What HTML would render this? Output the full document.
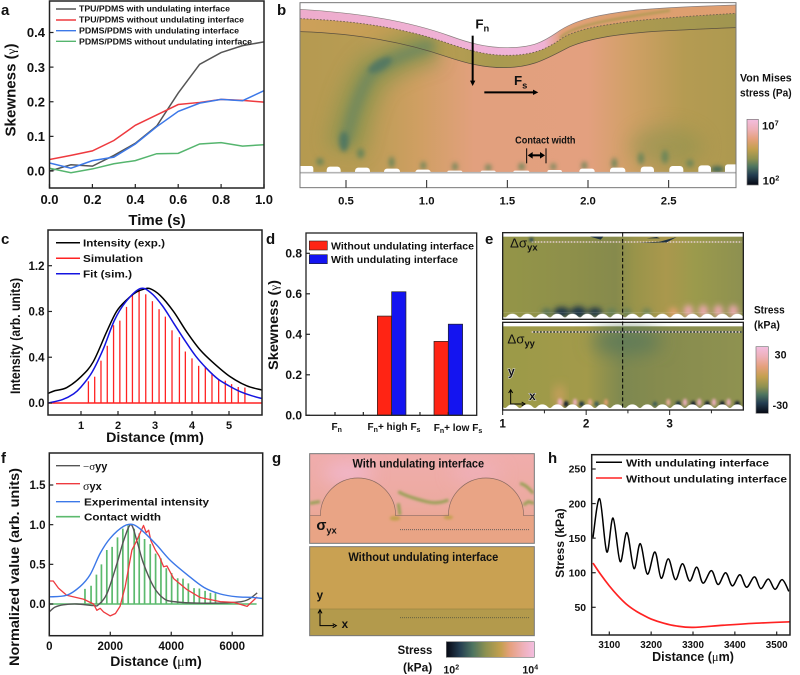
<!DOCTYPE html>
<html lang="en">
<head>
<meta charset="utf-8">
<title>Skewness and stress figure</title>
<style>
html,body{margin:0;padding:0;background:#fff;width:800px;height:675px;overflow:hidden}
svg{display:block;filter:blur(.3px)}
text{font-family:"Liberation Sans",sans-serif;font-weight:bold;fill:#111}
.sym{font-family:"Liberation Serif",serif;font-weight:normal}
</style>
</head>
<body>
<svg id="figure" xmlns="http://www.w3.org/2000/svg" width="800" height="675" viewBox="0 0 800 675">
<defs>
<linearGradient id="cmapV" x1="0" y1="0" x2="0" y2="1"><stop offset="0" stop-color="#f3bde0"/><stop offset=".15" stop-color="#eeb0b8"/><stop offset=".3" stop-color="#e5a07c"/><stop offset=".45" stop-color="#c4a04f"/><stop offset=".6" stop-color="#8e9150"/><stop offset=".72" stop-color="#4d7460"/><stop offset=".85" stop-color="#233c50"/><stop offset="1" stop-color="#060812"/></linearGradient>
<linearGradient id="cmapH" x1="0" y1="0" x2="1" y2="0"><stop offset="0" stop-color="#060812"/><stop offset=".15" stop-color="#233c50"/><stop offset=".3" stop-color="#4d7460"/><stop offset=".45" stop-color="#8e9150"/><stop offset=".62" stop-color="#c4a04f"/><stop offset=".72" stop-color="#e5a07c"/><stop offset=".87" stop-color="#eeb0b8"/><stop offset="1" stop-color="#f3bde0"/></linearGradient>
<linearGradient id="bBody" x1="0" y1="0" x2="1" y2="0"><stop offset="0" stop-color="#b59a50"/><stop offset=".14" stop-color="#b89c54"/><stop offset=".27" stop-color="#cf9f62"/><stop offset=".4" stop-color="#e2a07e"/><stop offset=".66" stop-color="#e3a07f"/><stop offset=".76" stop-color="#d0a066"/><stop offset=".88" stop-color="#b59b52"/><stop offset="1" stop-color="#ad9950"/></linearGradient>
<linearGradient id="bBand" x1="0" y1="0" x2="1" y2="0"><stop offset="0" stop-color="#cda05a"/><stop offset=".25" stop-color="#c29e54"/><stop offset=".45" stop-color="#a89a50"/><stop offset=".6" stop-color="#b49c50"/><stop offset="1" stop-color="#a09650"/></linearGradient>
<linearGradient id="bPink" x1="0" y1="0" x2="1" y2="0"><stop offset="0" stop-color="#eeaccc"/><stop offset=".5" stop-color="#f0b4da"/><stop offset=".56" stop-color="#efb2d4"/><stop offset=".6" stop-color="#e2a078"/><stop offset=".78" stop-color="#dc9f6e"/><stop offset="1" stop-color="#e09f72"/></linearGradient>
<linearGradient id="eTop" x1="0" y1="0" x2="1" y2="0"><stop offset="0" stop-color="#949548"/><stop offset=".3" stop-color="#8d8f4a"/><stop offset=".47" stop-color="#868a4c"/><stop offset=".55" stop-color="#99944a"/><stop offset=".68" stop-color="#aa984d"/><stop offset=".8" stop-color="#9b9a4c"/><stop offset="1" stop-color="#8d9050"/></linearGradient>
<linearGradient id="eBot" x1="0" y1="0" x2="1" y2="0"><stop offset="0" stop-color="#9b9a48"/><stop offset=".35" stop-color="#a39a4a"/><stop offset=".5" stop-color="#7d8850"/><stop offset=".65" stop-color="#868b4e"/><stop offset="1" stop-color="#8f9250"/></linearGradient>
<linearGradient id="gTop" x1="0" y1="0" x2="0" y2="1"><stop offset="0" stop-color="#f0adac"/><stop offset=".55" stop-color="#ecaaa0"/><stop offset="1" stop-color="#e9a484"/></linearGradient>
<filter id="b2" x="-50%" y="-50%" width="200%" height="200%"><feGaussianBlur stdDeviation="4"/></filter>
<filter id="b3" x="-100%" y="-100%" width="300%" height="300%"><feGaussianBlur stdDeviation="7"/></filter>
<filter id="b4" x="-50%" y="-50%" width="200%" height="200%"><feGaussianBlur stdDeviation="9"/></filter>
<filter id="b6" x="-50%" y="-50%" width="200%" height="200%"><feGaussianBlur stdDeviation="15"/></filter>
<filter id="b8" x="-60%" y="-60%" width="220%" height="220%"><feGaussianBlur stdDeviation="28"/></filter>
<pattern id="scallop" x="75" y="262" width="45" height="21" patternUnits="userSpaceOnUse"><path d="M0 21V15C6 15 8 4 22 4C36 4 38 15 45 15V21Z" fill="#fff"/></pattern>
<pattern id="scallop2" x="75" y="534" width="45" height="21" patternUnits="userSpaceOnUse"><path d="M0 21V15C6 15 8 4 22 4C36 4 38 15 45 15V21Z" fill="#fff"/></pattern>
<clipPath id="bClip"><rect x="90" y="8" width="1308" height="510"/></clipPath>
<clipPath id="bBodyClip"><path d="M90 28C250 38 400 58 540 108C600 130 650 143 710 143C790 143 820 125 860 98C920 55 1000 42 1100 30C1200 22 1300 18 1398 15L1398 518L90 518Z"/></clipPath>
<clipPath id="eTopClip"><rect x="68" y="23" width="722" height="260"/></clipPath>
<clipPath id="eBotClip"><rect x="68" y="292" width="722" height="263"/></clipPath>
<clipPath id="gClip"><rect x="89" y="11" width="674" height="269"/></clipPath>
<clipPath id="clipA"><rect x="49.5" y="1" width="214.5" height="187"/></clipPath>
<clipPath id="clipC"><rect x="48" y="230" width="214" height="185"/></clipPath>
<clipPath id="clipF"><rect x="49.3" y="453" width="213.4" height="182.7"/></clipPath>
<clipPath id="clipH"><rect x="591.7" y="454.7" width="198.3" height="180.3"/></clipPath>
</defs>

<rect width="800" height="675" fill="#fff"/>

<text x="1" y="15" font-size="15">a</text>
<text x="277" y="15" font-size="15">b</text>
<text x="1" y="244" font-size="15">c</text>
<text x="266" y="244" font-size="15">d</text>
<text x="485" y="244" font-size="15">e</text>
<text x="1" y="463" font-size="15">f</text>
<text x="272" y="463" font-size="15">g</text>
<text x="548" y="463" font-size="15">h</text>

<!-- Panel a -->
<g id="panel-a">
<g id="a-series" clip-path="url(#clipA)"></g>
<rect x="49.5" y="1" width="214.5" height="187" fill="none" stroke="#222" stroke-width="1.5"/>
<g id="a-ticks"></g>
<text x="157" y="225" text-anchor="middle" font-size="15">Time (s)</text>
<text transform="translate(15.5,90) rotate(-90)" text-anchor="middle" font-size="15" textLength="93" lengthAdjust="spacingAndGlyphs">Skewness (<tspan class="sym" font-size="13">γ</tspan>)</text>
<g font-size="8">
<line x1="56" x2="76" y1="9" y2="9" stroke="#555" stroke-width="1.4"/>
<text x="79" y="11.5" textLength="151" lengthAdjust="spacingAndGlyphs">TPU/PDMS with undulating interface</text>
<line x1="56" x2="76" y1="20" y2="20" stroke="#ee3a3f" stroke-width="1.4"/>
<text x="79" y="22.5" textLength="165" lengthAdjust="spacingAndGlyphs">TPU/PDMS without undulating interface</text>
<line x1="56" x2="76" y1="30.7" y2="30.7" stroke="#3c78e8" stroke-width="1.4"/>
<text x="79" y="33.5" textLength="160" lengthAdjust="spacingAndGlyphs">PDMS/PDMS with undulating interface</text>
<line x1="56" x2="76" y1="41.3" y2="41.3" stroke="#55b56e" stroke-width="1.4"/>
<text x="79" y="44.5" textLength="173" lengthAdjust="spacingAndGlyphs">PDMS/PDMS without undulating interface</text>
</g>
</g>

<!-- Panel b -->
<g id="panel-b" transform="translate(270,0) scale(.33333)">
<g clip-path="url(#bClip)">
<path d="M90 28C250 38 400 58 540 108C600 130 650 143 710 143C790 143 820 125 860 98C920 55 1000 42 1100 30C1200 22 1300 18 1398 15L1398 518L90 518Z" fill="url(#bBody)"/>
<path d="M90 56C250 62 400 82 540 132C600 152 650 166 710 166C790 166 830 148 880 112C930 85 1000 75 1100 62C1200 52 1300 46 1398 40L1398 83C1320 86 1220 90 1130 96C1030 105 960 115 900 140C830 175 790 203 700 203C640 203 590 190 530 170C400 125 250 100 90 95Z" fill="url(#bBand)"/>
<g clip-path="url(#bBodyClip)">
<path d="M225 450C240 370 260 290 300 225C340 185 420 150 500 135" fill="none" stroke="#8f9550" stroke-width="110" opacity=".85" filter="url(#b8)"/>
<path d="M225 430C240 370 260 290 300 225C340 190 400 160 490 135" fill="none" stroke="#6a8660" stroke-width="34" opacity=".85" filter="url(#b6)"/>
<ellipse cx="222" cy="425" rx="14" ry="30" fill="#4d7662" opacity=".9" filter="url(#b3)"/>
<ellipse cx="330" cy="195" rx="40" ry="16" fill="#4f7664" opacity=".85" transform="rotate(-30 330 195)" filter="url(#b3)"/>
<ellipse cx="1190" cy="440" rx="110" ry="60" fill="#8d9350" opacity=".55" filter="url(#b8)"/>
<g fill="#6a8558" filter="url(#b3)">
<ellipse cx="150" cy="485" rx="11" ry="11"/><ellipse cx="272" cy="460" rx="11" ry="15"/><ellipse cx="365" cy="487" rx="8" ry="17"/><ellipse cx="460" cy="497" rx="8" ry="12"/><ellipse cx="555" cy="500" rx="8" ry="12"/><ellipse cx="655" cy="503" rx="9" ry="10"/><ellipse cx="755" cy="500" rx="9" ry="11"/><ellipse cx="850" cy="500" rx="8" ry="10"/><ellipse cx="943" cy="497" rx="8" ry="12"/><ellipse cx="1033" cy="490" rx="8" ry="16"/><ellipse cx="1113" cy="475" rx="9" ry="18"/><ellipse cx="1185" cy="470" rx="10" ry="20"/><ellipse cx="1260" cy="490" rx="11" ry="11"/><ellipse cx="1342" cy="508" rx="20" ry="9" fill="#3a6558"/>
</g>
</g>
<path d="M90 28C250 38 400 58 540 108C600 130 650 143 710 143C790 143 820 125 860 98C920 55 1000 42 1100 30C1200 22 1300 18 1398 15L1398 40C1300 46 1200 52 1100 62C1000 75 930 85 880 112C830 148 790 166 710 166C650 166 600 152 540 132C400 82 250 62 90 56Z" fill="url(#bPink)"/>
<path d="M870 115C900 80 1000 60 1200 32" fill="none" stroke="#a89a50" stroke-width="6" filter="url(#b2)"/>
<path d="M90 28C250 38 400 58 540 108C600 130 650 143 710 143C790 143 820 125 860 98C920 55 1000 42 1100 30C1200 22 1300 18 1398 15" fill="none" stroke="#8a8080" stroke-width="2"/>
<path d="M90 56C250 62 400 82 540 132C600 152 650 166 710 166C790 166 830 148 880 112C930 85 1000 75 1100 62C1200 52 1300 46 1398 40" fill="none" stroke="#6e5f4e" stroke-width="2.6" stroke-dasharray="5 5"/>
<path d="M90 95C250 100 400 125 530 170C590 190 640 203 700 203C790 203 830 175 900 140C960 115 1030 105 1130 96C1220 90 1320 86 1398 83" fill="none" stroke="#5a5040" stroke-width="2.2"/>
<g fill="#fff">
<rect x="85" y="498" width="45" height="30" rx="7"/><rect x="170" y="500" width="42" height="30" rx="10"/><rect x="255" y="503" width="45" height="30" rx="10"/><rect x="342" y="506" width="48" height="30" rx="9"/><rect x="436" y="509" width="46" height="30" rx="8"/><rect x="532" y="512" width="45" height="30" rx="5"/><rect x="632" y="512" width="45" height="30" rx="5"/><rect x="730" y="512" width="48" height="30" rx="5"/><rect x="832" y="510" width="44" height="30" rx="6"/><rect x="928" y="506" width="46" height="30" rx="8"/><rect x="1020" y="503" width="46" height="30" rx="9"/><rect x="1112" y="500" width="40" height="30" rx="10"/><rect x="1198" y="498" width="42" height="30" rx="10"/><rect x="1285" y="496" width="38" height="30" rx="10"/><rect x="1365" y="493" width="40" height="30" rx="8"/>
</g>
</g>
<line x1="90" x2="1398" y1="518" y2="518" stroke="#b4b4b4" stroke-width="5"/>
<rect x="90" y="8" width="1308" height="555" fill="none" stroke="#777" stroke-width="3"/>
<g id="b-ticks"></g>
<text x="616" y="85" font-size="40">F<tspan font-size="28" dy="10">n</tspan></text>
<line x1="608" x2="608" y1="107" y2="245" stroke="#000" stroke-width="6"/>
<path d="M600 242H616L608 258Z" fill="#000"/>
<text x="732" y="255" font-size="40">F<tspan font-size="28" dy="10">s</tspan></text>
<line x1="643" x2="792" y1="277" y2="277" stroke="#000" stroke-width="6"/>
<path d="M789 269V285L805 277Z" fill="#000"/>
<text x="826" y="430" text-anchor="middle" font-size="31" textLength="181" lengthAdjust="spacingAndGlyphs">Contact width</text>
<g stroke="#000">
<line x1="770" x2="770" y1="445" y2="490" stroke-width="3"/><line x1="828" x2="828" y1="445" y2="490" stroke-width="3"/><line x1="780" x2="818" y1="466" y2="466" stroke-width="6"/>
<path d="M773 466L788 456V476Z M825 466L810 456V476Z" fill="#000" stroke="none"/>
</g>
<text x="1410" y="245" font-size="34" textLength="155" lengthAdjust="spacingAndGlyphs">Von Mises</text>
<text x="1410" y="290" font-size="34" textLength="155" lengthAdjust="spacingAndGlyphs">stress (Pa)</text>
<rect x="1431" y="358" width="34" height="197" fill="url(#cmapV)" stroke="#777" stroke-width="2"/>
<text x="1476" y="388" font-size="34">10<tspan font-size="22" dy="-12">7</tspan></text>
<text x="1478" y="553" font-size="34">10<tspan font-size="22" dy="-12">2</tspan></text>
</g>

<!-- Panel c -->
<g id="panel-c">
<g id="c-series" clip-path="url(#clipC)"></g>
<rect x="48" y="230" width="214" height="185" fill="none" stroke="#222" stroke-width="1.5"/>
<g id="c-ticks"></g>
<text x="155" y="442" text-anchor="middle" font-size="14.2">Distance (mm)</text>
<text transform="translate(20,336) rotate(-90)" text-anchor="middle" font-size="13.6" textLength="116" lengthAdjust="spacingAndGlyphs">Intensity (arb. units)</text>
<g font-size="10">
<line x1="56" x2="80" y1="242.7" y2="242.7" stroke="#000" stroke-width="1.5"/>
<text x="83" y="246.5" textLength="82" lengthAdjust="spacingAndGlyphs">Intensity (exp.)</text>
<line x1="56" x2="80" y1="258.3" y2="258.3" stroke="#f22" stroke-width="1.5"/>
<text x="83" y="262" textLength="60" lengthAdjust="spacingAndGlyphs">Simulation</text>
<line x1="56" x2="80" y1="273.7" y2="273.7" stroke="#1414e0" stroke-width="1.5"/>
<text x="83" y="277.5" textLength="49" lengthAdjust="spacingAndGlyphs">Fit (sim.)</text>
</g>
</g>

<!-- Panel d -->
<g id="panel-d">
<g id="d-bars"></g>
<rect x="306" y="233" width="170.7" height="182.3" fill="none" stroke="#222" stroke-width="1.3"/>
<g id="d-ticks"></g>
<text transform="translate(278,325) rotate(-90)" text-anchor="middle" font-size="13.5" textLength="90" lengthAdjust="spacingAndGlyphs">Skewness (<tspan class="sym" font-size="12">γ</tspan>)</text>
<g font-size="10.5">
<rect x="309.3" y="241" width="18" height="9" fill="#ff2414" stroke="#222" stroke-width=".6"/>
<text x="331" y="249.5" textLength="143" lengthAdjust="spacingAndGlyphs">Without undulating interface</text>
<rect x="309.3" y="254.7" width="18" height="9" fill="#1414f0" stroke="#222" stroke-width=".6"/>
<text x="331" y="263" textLength="127" lengthAdjust="spacingAndGlyphs">With undulating interface</text>
</g>
<g id="d-cats" font-size="10"></g>
</g>

<!-- Panel e -->
<g id="panel-e" transform="translate(480,225) scale(.33333)">
<g clip-path="url(#eTopClip)">
<rect x="68" y="23" width="722" height="260" fill="url(#eTop)"/>
<rect x="68" y="23" width="722" height="12" fill="#fff"/>
<g filter="url(#b4)" fill="#1f3646">
<ellipse cx="245" cy="262" rx="24" ry="16"/><ellipse cx="295" cy="262" rx="24" ry="18"/><ellipse cx="345" cy="262" rx="22" ry="14"/><ellipse cx="200" cy="262" rx="14" ry="10" fill="#44685c"/><ellipse cx="395" cy="262" rx="14" ry="10" fill="#5a7c5c"/><ellipse cx="440" cy="262" rx="12" ry="10" fill="#5a7c5c"/><ellipse cx="500" cy="262" rx="12" ry="10" fill="#5a7c5c"/>
</g>
<g filter="url(#b4)" fill="#eda8b0">
<ellipse cx="580" cy="262" rx="14" ry="14" fill="#e3a070"/><ellipse cx="625" cy="258" rx="14" ry="18"/><ellipse cx="670" cy="258" rx="14" ry="18"/><ellipse cx="715" cy="258" rx="14" ry="18"/><ellipse cx="760" cy="258" rx="14" ry="18"/>
</g>
<rect x="68" y="262" width="722" height="21" fill="url(#scallop)"/>
<line x1="155" x2="786" y1="51" y2="51" stroke="#f4d8e6" stroke-width="4" stroke-dasharray="5 4"/>
<path d="M330 35H370L362 44ZM500 40H540L530 36ZM470 54L540 50L590 36L560 52Z" fill="#1d3040"/>
<rect x="148" y="38" width="12" height="12" fill="#2d4a55" filter="url(#b2)"/>
</g>
<rect x="68" y="23" width="722" height="260" fill="none" stroke="#222" stroke-width="4"/>
<g clip-path="url(#eBotClip)">
<rect x="68" y="292" width="722" height="263" fill="url(#eBot)"/>
<rect x="68" y="292" width="722" height="12" fill="#fff"/>
<ellipse cx="440" cy="350" rx="105" ry="35" fill="#5f7a58" filter="url(#b8)"/>
<ellipse cx="238" cy="510" rx="14" ry="30" fill="#d0a060" filter="url(#b6)"/>
<g filter="url(#b2)">
<ellipse cx="240" cy="532" rx="7" ry="12" fill="#efb0c0"/><ellipse cx="258" cy="537" rx="8" ry="9" fill="#12202e"/><ellipse cx="285" cy="532" rx="6" ry="11" fill="#efb0c0"/><ellipse cx="305" cy="537" rx="8" ry="8" fill="#1e3442"/><ellipse cx="330" cy="532" rx="6" ry="10" fill="#e8a890"/><ellipse cx="350" cy="537" rx="7" ry="8" fill="#3a5a55"/><ellipse cx="378" cy="532" rx="6" ry="10" fill="#e0a070"/><ellipse cx="525" cy="537" rx="7" ry="7" fill="#3a5a55"/><ellipse cx="565" cy="532" rx="6" ry="10" fill="#efb0a0"/><ellipse cx="595" cy="537" rx="8" ry="9" fill="#1e3442"/><ellipse cx="615" cy="532" rx="6" ry="11" fill="#efb0c0"/><ellipse cx="640" cy="537" rx="8" ry="9" fill="#12202e"/><ellipse cx="658" cy="532" rx="6" ry="11" fill="#efb0c0"/><ellipse cx="682" cy="537" rx="8" ry="9" fill="#12202e"/><ellipse cx="702" cy="532" rx="6" ry="11" fill="#efb0c0"/><ellipse cx="727" cy="537" rx="8" ry="9" fill="#12202e"/><ellipse cx="746" cy="532" rx="6" ry="11" fill="#efb0c0"/><ellipse cx="772" cy="537" rx="8" ry="9" fill="#12202e"/>
</g>
<rect x="68" y="534" width="722" height="21" fill="url(#scallop2)"/>
<line x1="155" x2="786" y1="321" y2="321" stroke="#f4d8e6" stroke-width="4" stroke-dasharray="5 5"/>
<line x1="160" x2="786" y1="321" y2="321" stroke="#1d3040" stroke-width="4" stroke-dasharray="5 5"/>
</g>
<rect x="68" y="292" width="722" height="263" fill="none" stroke="#222" stroke-width="4"/>
<line x1="428" x2="428" y1="23" y2="555" stroke="#000" stroke-width="3" stroke-dasharray="12 7"/>
<text x="90" y="68" font-size="40" style="font-weight:normal">Δσ<tspan font-size="28" dy="9" style="font-weight:bold">yx</tspan></text>
<text x="82" y="355" font-size="40" style="font-weight:normal">Δσ<tspan font-size="28" dy="9" style="font-weight:bold">yy</tspan></text>
<text x="84" y="452" font-size="36" stroke="#ddd" stroke-width="3" paint-order="stroke">y</text>
<text x="147" y="525" font-size="36" stroke="#ddd" stroke-width="3" paint-order="stroke">x</text>
<path d="M92 496V537H130M86 504L92 494L98 504M125 531L135 537L125 543" fill="none" stroke="#000" stroke-width="3"/>
<g id="e-ticks" font-size="35"></g>
<text x="822" y="265" font-size="33" textLength="92" lengthAdjust="spacingAndGlyphs">Stress</text>
<text x="822" y="311" font-size="33" textLength="78" lengthAdjust="spacingAndGlyphs">(kPa)</text>
<rect x="828" y="365" width="37" height="200" fill="url(#cmapV)" stroke="#777" stroke-width="2"/>
<text x="884" y="400" font-size="32">30</text>
<text x="878" y="552" font-size="32">-30</text>
</g>

<!-- Panel f -->
<g id="panel-f">
<g id="f-series" clip-path="url(#clipF)"></g>
<rect x="49.3" y="453" width="213.4" height="182.7" fill="none" stroke="#222" stroke-width="1.5"/>
<g id="f-ticks"></g>
<text x="156" y="666" text-anchor="middle" font-size="14">Distance (<tspan class="sym">μ</tspan>m)</text>
<text transform="translate(19,567) rotate(-90)" text-anchor="middle" font-size="14" textLength="198" lengthAdjust="spacingAndGlyphs">Normalized value (arb. units)</text>
<g font-size="10">
<line x1="56" x2="80" y1="465.7" y2="465.7" stroke="#555" stroke-width="1.4"/>
<text x="83" y="470"><tspan class="sym" font-size="11">−σ</tspan><tspan font-size="11">yy</tspan></text>
<line x1="56" x2="80" y1="483.7" y2="483.7" stroke="#ee3a3f" stroke-width="1.4"/>
<text x="83" y="490"><tspan class="sym" font-size="12">σ</tspan><tspan font-size="11">yx</tspan></text>
<line x1="56" x2="80" y1="501.7" y2="501.7" stroke="#3c78e8" stroke-width="1.4"/>
<text x="84" y="505.5" textLength="125" lengthAdjust="spacingAndGlyphs">Experimental intensity</text>
<line x1="56" x2="80" y1="516.7" y2="516.7" stroke="#5cba6e" stroke-width="1.6"/>
<text x="84" y="520.5" textLength="77" lengthAdjust="spacingAndGlyphs">Contact width</text>
</g>
</g>

<!-- Panel g -->
<g id="panel-g" transform="translate(280,450) scale(.33333)">
<g clip-path="url(#gClip)">
<rect x="89" y="11" width="674" height="269" fill="url(#gTop)"/>
<ellipse cx="205" cy="70" rx="75" ry="30" fill="#f3bde0" opacity=".7" filter="url(#b8)"/>
<ellipse cx="590" cy="70" rx="75" ry="26" fill="#f0b4cc" opacity=".6" filter="url(#b8)"/>
<path d="M355 125C380 140 420 150 440 155C460 160 480 160 505 150M355 160L360 195M720 100C740 105 750 120 760 130M730 165L745 155L763 160M89 160L120 155" fill="none" stroke="#96a055" stroke-width="9" filter="url(#b2)"/>
<path d="M89 197H121A113 113 0 0 1 347 197H505A113 113 0 0 1 731 197H763V280H89Z" fill="#e9a485"/>
<ellipse cx="345" cy="205" rx="16" ry="7" fill="#c2a04f" filter="url(#b2)"/>
<ellipse cx="505" cy="202" rx="14" ry="6" fill="#c2a04f" filter="url(#b2)"/>
<path d="M89 197H121A113 113 0 0 1 347 197H505A113 113 0 0 1 731 197H763" fill="none" stroke="#8a6a60" stroke-width="2"/>
<line x1="360" x2="747" y1="239" y2="239" stroke="#555" stroke-width="2.5" stroke-dasharray="3 3"/>
</g>
<rect x="89" y="11" width="674" height="269" fill="none" stroke="#777" stroke-width="3"/>
<text x="415" y="52" text-anchor="middle" font-size="35" textLength="395" lengthAdjust="spacingAndGlyphs">With undulating interface</text>
<text x="109" y="240" font-size="44">σ<tspan font-size="28" dy="10">yx</tspan></text>
<rect x="89" y="290" width="674" height="187" fill="#c9a152"/>
<rect x="89" y="477" width="674" height="80" fill="#b39a4c"/>
<line x1="89" x2="763" y1="477" y2="477" stroke="#9a8745" stroke-width="2.5"/>
<line x1="360" x2="747" y1="503" y2="503" stroke="#5a5a40" stroke-width="2.5" stroke-dasharray="3 3"/>
<rect x="89" y="290" width="674" height="267" fill="none" stroke="#777" stroke-width="3"/>
<text x="430" y="333" text-anchor="middle" font-size="35" textLength="450" lengthAdjust="spacingAndGlyphs">Without undulating interface</text>
<text x="110" y="447" font-size="35">y</text>
<text x="185" y="534" font-size="35">x</text>
<path d="M120 482V527H162M114 490L120 479L126 490M158 521L169 527L158 533" fill="none" stroke="#000" stroke-width="3"/>
<text x="353" y="612" font-size="35" textLength="104" lengthAdjust="spacingAndGlyphs">Stress</text>
<text x="369" y="665" font-size="35" textLength="88" lengthAdjust="spacingAndGlyphs">(kPa)</text>
<rect x="499" y="575" width="264" height="47" fill="url(#cmapH)" stroke="#777" stroke-width="2"/>
<text x="490" y="670" font-size="32">10<tspan font-size="21" dy="-11">2</tspan></text>
<text x="727" y="670" font-size="32">10<tspan font-size="21" dy="-11">4</tspan></text>
</g>

<!-- Panel h -->
<g id="panel-h">
<g id="h-series" clip-path="url(#clipH)"></g>
<rect x="591.7" y="454.7" width="198.3" height="180.3" fill="none" stroke="#222" stroke-width="1.5"/>
<g id="h-ticks"></g>
<text x="693" y="661" text-anchor="middle" font-size="12.5">Distance (<tspan class="sym">μ</tspan>m)</text>
<text transform="translate(564,543) rotate(-90)" text-anchor="middle" font-size="12">Stress (kPa)</text>
<g font-size="10.5">
<line x1="596" x2="622" y1="462.3" y2="462.3" stroke="#000" stroke-width="1.5"/>
<text x="626" y="466.5" textLength="143" lengthAdjust="spacingAndGlyphs">With undulating interface</text>
<line x1="596" x2="622" y1="478" y2="478" stroke="#f22" stroke-width="1.5"/>
<text x="626" y="482.5" textLength="161" lengthAdjust="spacingAndGlyphs">Without undulating interface</text>
</g>
</g>
</svg>

<script>
/* ---------- panel a ---------- */
const aTimes = [0, 0.1, 0.2, 0.3, 0.4, 0.5, 0.6, 0.7, 0.8, 0.9, 1.0];
const aTpuWith = [0.0, 0.018, 0.014, 0.045, 0.08, 0.13, 0.225, 0.308, 0.342, 0.362, 0.373];
const aTpuWithout = [0.033, 0.045, 0.058, 0.088, 0.132, 0.162, 0.192, 0.198, 0.207, 0.204, 0.199];
const aPdmsWith = [0.023, 0.008, 0.03, 0.04, 0.078, 0.128, 0.172, 0.196, 0.207, 0.203, 0.232];
const aPdmsWithout = [0.008, -0.005, 0.006, 0.021, 0.03, 0.05, 0.051, 0.078, 0.082, 0.072, 0.076];
const aXTicks = [0, 0.2, 0.4, 0.6, 0.8, 1.0];
const aYTicks = [0, 0.1, 0.2, 0.3, 0.4];

/* ---------- panel b ---------- */
const bXTicks = [0.5, 1.0, 1.5, 2.0, 2.5];

/* ---------- panel c ---------- */
const cExpX = [0.12, 0.3, 0.61, 1.0, 1.33, 1.69, 1.96, 2.23, 2.5, 2.7, 2.86, 3.14, 3.5, 3.86, 4.22, 4.58, 5.03, 5.48, 5.88];
const cExpY = [0.085, 0.108, 0.134, 0.23, 0.36, 0.62, 0.8, 0.9, 0.97, 0.995, 1.0, 0.94, 0.8, 0.62, 0.464, 0.35, 0.23, 0.15, 0.114];
const cFitX = [0.12, 0.5, 0.8, 1.0, 1.3, 1.6, 1.9, 2.2, 2.6, 2.9, 3.2, 3.5, 3.8, 4.1, 4.4, 4.7, 5.0, 5.3, 5.6, 5.88];
const cFitY = [0.0, 0.03, 0.08, 0.14, 0.27, 0.47, 0.72, 0.88, 1.0, 0.96, 0.85, 0.7, 0.55, 0.41, 0.3, 0.21, 0.15, 0.1, 0.065, 0.04];
const cSimX = [1.2, 1.37, 1.54, 1.71, 1.88, 2.05, 2.23, 2.39, 2.57, 2.75, 2.93, 3.11, 3.28, 3.46, 3.66, 3.82, 4.0, 4.18, 4.36, 4.54, 4.72, 4.9, 5.07, 5.25, 5.43];
const cSimY = [0.19, 0.23, 0.37, 0.5, 0.68, 0.72, 0.84, 0.95, 0.99, 0.95, 0.89, 0.82, 0.755, 0.635, 0.575, 0.45, 0.39, 0.325, 0.31, 0.26, 0.2, 0.195, 0.165, 0.14, 0.135];
const cXTicks = [1, 2, 3, 4, 5];
const cYTicks = [0, 0.4, 0.8, 1.2];

/* ---------- panel d ---------- */
const dWithout = [0, 0.49, 0.365];
const dWith = [0, 0.61, 0.45];
const dYTicks = [0, 0.2, 0.4, 0.6, 0.8];

/* ---------- panel e ---------- */
const eXTicks = [1, 2, 3];

/* ---------- panel f ---------- */
const fSyyX = [0, 186, 460, 900, 1450, 1610, 1890, 2220, 2440, 2675, 2870, 3090, 3420, 3750, 4080, 4960, 6050, 6490, 6820];
const fSyyY = [-0.1, -0.04, -0.01, 0.0, -0.02, -0.01, 0.13, 0.51, 0.8, 1.0, 0.8, 0.51, 0.22, 0.07, 0.03, 0.01, 0.02, 0.05, 0.14];
const fSyxX = [0, 130, 300, 570, 1130, 1450, 1560, 1670, 1780, 2000, 2170, 2320, 2490, 2710, 2870, 3090, 3180, 3260, 3330, 3480, 3610, 3750, 3860, 4080, 4520, 4960, 5610, 6050, 6490, 6820];
const fSyxY = [0.29, 0.29, 0.2, 0.11, 0.06, 0.0, -0.08, -0.055, -0.1, -0.15, -0.12, -0.03, 0.22, 0.68, 0.8, 0.99, 0.9, 0.93, 0.8, 0.68, 0.6, 0.47, 0.48, 0.32, 0.18, 0.08, 0.03, 0.02, -0.03, 0.09];
const fExpX = [0, 570, 1010, 1340, 1670, 2000, 2440, 2760, 3090, 3530, 3970, 4520, 5070, 5610, 6160, 6600, 7000];
const fExpY = [0.09, 0.11, 0.22, 0.37, 0.64, 0.83, 0.98, 1.0, 0.91, 0.74, 0.55, 0.37, 0.21, 0.126, 0.09, 0.084, 0.07];
const fContactX = [1170, 1370, 1546, 1710, 1886, 2061, 2237, 2412, 2588, 2785, 2950, 3125, 3311, 3487, 3662, 3838, 4013, 4211, 4386, 4561, 4748, 4923, 5110, 5285, 5450];
const fContactY = [0.19, 0.23, 0.37, 0.5, 0.68, 0.72, 0.84, 0.95, 0.99, 0.95, 0.89, 0.82, 0.755, 0.635, 0.575, 0.45, 0.39, 0.325, 0.32, 0.26, 0.2, 0.195, 0.165, 0.14, 0.135];
const fXTicks = [0, 2000, 4000, 6000];
const fYTicks = [0, 0.5, 1.0, 1.5];

/* ---------- panel h ---------- */
const hWithX = [3061, 3077, 3094, 3109, 3126, 3142, 3159, 3174, 3191, 3209, 3224, 3241, 3258, 3275, 3292, 3309, 3324, 3344, 3360, 3378, 3394, 3412, 3428, 3447, 3462, 3480, 3496, 3513, 3529];
const hWithY = [151, 207, 130, 179, 116, 158, 106, 142, 98, 130, 92, 120, 90, 113, 88, 108, 85, 103, 83, 100, 81, 97, 79, 94, 77, 91, 76, 90, 73];
const hWithoutX = [3061, 3080, 3100, 3120, 3140, 3160, 3180, 3200, 3230, 3260, 3300, 3372, 3451, 3531];
const hWithoutY = [114, 97, 81, 67, 55, 46, 39, 33, 27, 23, 21, 24, 27, 29];
const hXTicks = [3100, 3200, 3300, 3400, 3500];
const hYTicks = [50, 100, 150, 200, 250];

const NS = 'http://www.w3.org/2000/svg';
const byId = id => document.getElementById(id);
function linear(d0, d1, r0, r1) { return v => r0 + (v - d0) * (r1 - r0) / (d1 - d0); }
function svgEl(tag, attrs, parent, txt) {
  const el = document.createElementNS(NS, tag);
  for (const k in attrs) el.setAttribute(k, attrs[k]);
  if (txt !== undefined) el.textContent = txt;
  parent.appendChild(el);
  return el;
}
function straight(xs, ys, sx, sy) {
  return xs.map((x, i) => (i ? 'L' : 'M') + sx(x).toFixed(2) + ' ' + sy(ys[i]).toFixed(2)).join('');
}
function smooth(xs, ys, sx, sy) {
  const p = xs.map((x, i) => [sx(x), sy(ys[i])]);
  let d = 'M' + p[0][0].toFixed(2) + ' ' + p[0][1].toFixed(2);
  for (let i = 0; i < p.length - 1; i++) {
    const a = p[Math.max(i - 1, 0)], b = p[i], c = p[i + 1], e = p[Math.min(i + 2, p.length - 1)];
    const c1 = [b[0] + (c[0] - a[0]) / 6, b[1] + (c[1] - a[1]) / 6];
    const c2 = [c[0] - (e[0] - b[0]) / 6, c[1] - (e[1] - b[1]) / 6];
    d += 'C' + c1[0].toFixed(2) + ' ' + c1[1].toFixed(2) + ' ' + c2[0].toFixed(2) + ' ' + c2[1].toFixed(2) + ' ' + c[0].toFixed(2) + ' ' + c[1].toFixed(2);
  }
  return d;
}
function xTicks(g, vals, sx, yBase, len, labelY, size, fmt, sw) {
  vals.forEach(v => {
    const t = svgEl('line', {x1: sx(v), x2: sx(v), y1: yBase, y2: yBase - len, stroke: '#222', 'stroke-width': sw || 1.2}, g);
    
    
    const l = svgEl('text', {x: sx(v), y: labelY, 'text-anchor': 'middle', 'font-size': size}, g, fmt(v));
    
    
  });
}
function yTicks(g, vals, sy, xBase, len, labelX, size, fmt) {
  vals.forEach(v => {
    const t = svgEl('line', {x1: xBase, x2: xBase + len, y1: sy(v), y2: sy(v), stroke: '#222', 'stroke-width': 1.2}, g);
    
    
    const l = svgEl('text', {x: labelX, y: sy(v) + size * 0.36, 'text-anchor': 'end', 'font-size': size}, g, fmt(v));
    
    
  });
}
const fix1 = v => v.toFixed(1);
const plain = v => String(v);

/* panel a */
const axX = linear(0, 1, 49.5, 264), axY = linear(0, 0.4, 171, 32.5);
const aG = byId('a-series');
const aLine1 = svgEl('path', {d: straight(aTimes, aTpuWith, axX, axY), fill: 'none', stroke: '#555', 'stroke-width': 1.5}, aG);


const aLine2 = svgEl('path', {d: straight(aTimes, aTpuWithout, axX, axY), fill: 'none', stroke: '#ee3a3f', 'stroke-width': 1.5}, aG);


const aLine3 = svgEl('path', {d: straight(aTimes, aPdmsWith, axX, axY), fill: 'none', stroke: '#3c78e8', 'stroke-width': 1.5}, aG);


const aLine4 = svgEl('path', {d: straight(aTimes, aPdmsWithout, axX, axY), fill: 'none', stroke: '#55b56e', 'stroke-width': 1.5}, aG);


xTicks(byId('a-ticks'), aXTicks, axX, 188, 4, 204, 13, fix1);
yTicks(byId('a-ticks'), aYTicks, axY, 49.5, 4, 45, 13, fix1);

/* panel b ticks (drawn in the panel's scaled coordinates) */
const bxX = linear(0.5, 2.5, 228, 1196);
xTicks(byId('b-ticks'), bXTicks, bxX, 563, 23, 614, 34, fix1, 3);

/* panel c */
const cxX = linear(1, 5, 81, 229), cxY = linear(0, 1.2, 403, 265.7);
const cG = byId('c-series');
const cBase = svgEl('line', {x1: cxX(0.12), x2: cxX(5.88), y1: cxY(0), y2: cxY(0), stroke: '#f22', 'stroke-width': 1.5}, cG);


cSimX.forEach((x, i) => {
  const s = svgEl('line', {x1: cxX(x), x2: cxX(x), y1: cxY(0), y2: cxY(cSimY[i]), stroke: '#f22', 'stroke-width': 1.3}, cG);
  
  
});
const cLine1 = svgEl('path', {d: smooth(cExpX, cExpY, cxX, cxY), fill: 'none', stroke: '#000', 'stroke-width': 1.5}, cG);


const cLine2 = svgEl('path', {d: smooth(cFitX, cFitY, cxX, cxY), fill: 'none', stroke: '#1414e0', 'stroke-width': 1.5}, cG);


xTicks(byId('c-ticks'), cXTicks, cxX, 415, 4, 429, 11, plain);
yTicks(byId('c-ticks'), cYTicks, cxY, 48, 4, 44.5, 11.5, fix1);

/* panel d */
const dxC = linear(0, 2, 335, 448.3), dxY = linear(0, 0.8, 415.3, 253.3);
const dBarW = 14.3;
const dG = byId('d-bars');
dWithout.forEach((v, i) => {
  const b = svgEl('rect', {x: dxC(i) - dBarW, y: dxY(v), width: dBarW, height: dxY(0) - dxY(v), fill: '#ff2414', stroke: '#222', 'stroke-width': 0.7}, dG);
  
  
});
dWith.forEach((v, i) => {
  const b = svgEl('rect', {x: dxC(i), y: dxY(v), width: dBarW, height: dxY(0) - dxY(v), fill: '#1414f0', stroke: '#222', 'stroke-width': 0.7}, dG);
  
  
});
yTicks(byId('d-ticks'), dYTicks, dxY, 306, 4, 302, 12, fix1);
[0, 0.5, 1, 1.5, 2].forEach(v => {
  const t = svgEl('line', {x1: dxC(v), x2: dxC(v), y1: 415.3, y2: 412, stroke: '#222', 'stroke-width': 1.2}, byId('d-ticks'));
  
  
});
function category(center, y, main, sub, rest, sub2) {
  const t = svgEl('text', {x: center, y: y, 'text-anchor': 'middle'}, byId('d-cats'));
  
  
  svgEl('tspan', {}, t, main);
  svgEl('tspan', {'font-size': 7, dy: 2}, t, sub);
  if (rest) {
    svgEl('tspan', {dy: -2}, t, rest);
    svgEl('tspan', {'font-size': 7, dy: 2}, t, sub2);
  }
}
category(336.7, 430, 'F', 'n');
category(394, 430, 'F', 'n', '+ high F', 's');
category(458, 431, 'F', 'n', '+ low F', 's');

/* panel e ticks */
const exX = linear(1, 3, 68, 569);
const eG = byId('e-ticks');
eXTicks.forEach(v => {
  const t = svgEl('line', {x1: exX(v), x2: exX(v), y1: 555, y2: 570, stroke: '#222', 'stroke-width': 3}, eG);
  
  
  const l = svgEl('text', {x: exX(v), y: 608, 'text-anchor': 'middle'}, eG, plain(v));
  
  
});
[1.5, 2.5, 3.5].forEach(v => {
  const t = svgEl('line', {x1: exX(v), x2: exX(v), y1: 555, y2: 565, stroke: '#222', 'stroke-width': 3}, eG);
  
  
});

/* panel f */
const fxX = linear(0, 7000, 49.3, 262.7), fxY = linear(0, 1.5, 604, 485);
const fG = byId('f-series');
const fBase = svgEl('line', {x1: fxX(0), x2: fxX(6800), y1: fxY(0), y2: fxY(0), stroke: '#5cba6e', 'stroke-width': 1.6}, fG);


fContactX.forEach((x, i) => {
  const s = svgEl('line', {x1: fxX(x), x2: fxX(x), y1: fxY(0), y2: fxY(fContactY[i]), stroke: '#5cba6e', 'stroke-width': 1.7}, fG);
  
  
});
const fLine1 = svgEl('path', {d: smooth(fSyyX, fSyyY, fxX, fxY), fill: 'none', stroke: '#555', 'stroke-width': 1.4}, fG);


const fLine2 = svgEl('path', {d: straight(fSyxX, fSyxY, fxX, fxY), fill: 'none', stroke: '#ee3a3f', 'stroke-width': 1.3, 'stroke-linejoin': 'round'}, fG);


const fLine3 = svgEl('path', {d: smooth(fExpX, fExpY, fxX, fxY), fill: 'none', stroke: '#3c78e8', 'stroke-width': 1.4}, fG);


xTicks(byId('f-ticks'), fXTicks, fxX, 635.7, 4, 650, 11.5, plain);
yTicks(byId('f-ticks'), fYTicks, fxY, 49.3, 4, 45.5, 11.5, fix1);

/* panel h */
const hxX = linear(3100, 3500, 609.3, 776.7), hxY = linear(50, 250, 607.3, 469);
const hG = byId('h-series');
const hLine1 = svgEl('path', {d: smooth(hWithX, hWithY, hxX, hxY), fill: 'none', stroke: '#000', 'stroke-width': 1.5}, hG);


const hLine2 = svgEl('path', {d: smooth(hWithoutX, hWithoutY, hxX, hxY), fill: 'none', stroke: '#f22', 'stroke-width': 1.7}, hG);


xTicks(byId('h-ticks'), hXTicks, hxX, 635, 3.5, 648, 9.8, plain);
yTicks(byId('h-ticks'), hYTicks, hxY, 591.7, 4, 586, 10.4, plain);
</script>
</body>
</html>
